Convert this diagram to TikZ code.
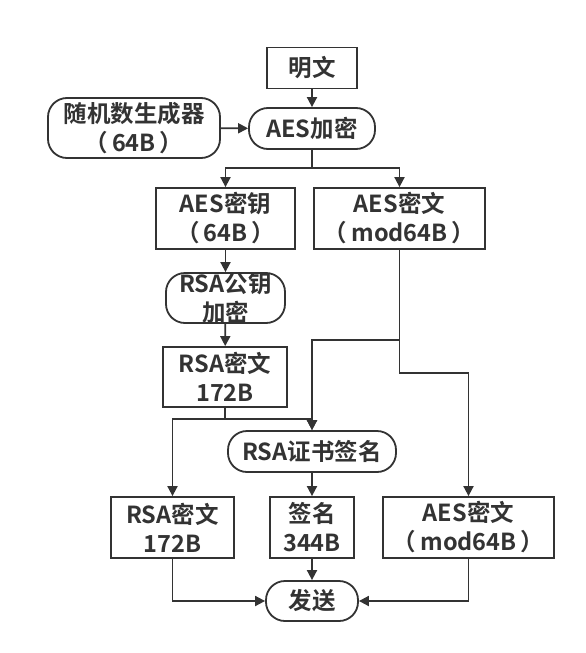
\documentclass[tikz,border=0pt]{standalone}
\usepackage{fontspec}
\newfontfamily\cjk{Noto Sans CJK SC}[BoldFont={Noto Sans CJK SC Bold}]
\usetikzlibrary{arrows.meta}
\definecolor{ink}{HTML}{333333}
\newcommand{\pl}[1]{（\hspace{4pt}#1\hspace{4pt}）}
\begin{document}
\begin{tikzpicture}[x=1pt, y=-1pt,
  every node/.style = {align=center, inner sep=0pt, text=ink,
    font=\cjk\bfseries\fontsize{23.5}{29}\selectfont},
  box/.style = {draw=ink, line width=1.8pt, shape=rectangle},
  pill/.style = {box, rounded corners=19pt},
  arr/.style = {draw=ink, line width=1.8pt, -{Triangle[length=10pt, width=10pt]}}]
  \useasboundingbox (0,0) rectangle (586,653);
  % top part
  \node[box, minimum width=90pt, minimum height=41pt] (plain) at (312,68) {明文};
  \node[pill, minimum width=172pt, minimum height=60pt] (rng) at (134,128) {随机数生成器\\\pl{64B}};
  \node[pill, minimum width=126pt, minimum height=41pt] (aesenc) at (312,128.5) {AES加密};
  \node[box, minimum width=139pt, minimum height=61pt] (aeskey) at (225.5,218.5) {AES密钥\\\pl{64B}};
  \node[box, minimum width=171pt, minimum height=61pt] (aesct) at (399.5,218.5) {AES密文\\\pl{mod64B}};
  % middle part
  \node[pill, minimum width=119pt, minimum height=50pt] (rsaenc) at (225.5,298) {};
  \node at (rsaenc) {RSA公钥\\加密};
  \node[box, minimum width=124pt, minimum height=60pt] (rsact) at (225,377) {RSA密文\\172B};
  \node[pill, minimum width=168pt, minimum height=41pt] (sign) at (312,451.5) {RSA证书签名};
  % bottom part
  \node[box, minimum width=123pt, minimum height=61pt] (rsact2) at (172.5,527.5) {RSA密文\\172B};
  \node[box, minimum width=84pt, minimum height=61pt] (sig) at (312,527.5) {签名\\344B};
  \node[box, minimum width=171pt, minimum height=61pt] (aesct2) at (468.5,527.5) {AES密文\\\pl{mod64B}};
  \node[pill, minimum width=92pt, minimum height=40pt] (send) at (312,601) {发送};
  % branch points
  \coordinate (split) at (312,168);
  \coordinate (br1) at (aesct.south |- 0,340);
  \coordinate (br2) at (aesct.south |- 0,373);
  \coordinate (br3) at (rsact.south |- 0,419);
  % connectors
  \draw[arr] (plain) -- (aesenc);
  \draw[arr] (rng) -- (aesenc);
  \draw[draw=ink, line width=1.8pt] (aesenc) -- (split);
  \draw[arr] (split) -| (aeskey.north);
  \draw[arr] (split) -| (aesct.north);
  \draw[arr] (aeskey) -- (rsaenc);
  \draw[arr] (rsaenc) -- (rsact);
  \draw[arr] (aesct.south) -- (br1) -| (sign.north);
  \draw[arr] (br1) -- (br2) -| (aesct2.north);
  \draw[arr] (rsact.south) -- (br3) -| (rsact2.north);
  \draw[arr] (br3) -| (sign.north);
  \draw[arr] (sign) -- (sig);
  \draw[arr] (sig) -- (send);
  \draw[arr] (rsact2.south) |- (send.west);
  \draw[arr] (aesct2.south) |- (send.east);
\end{tikzpicture}
\end{document}
